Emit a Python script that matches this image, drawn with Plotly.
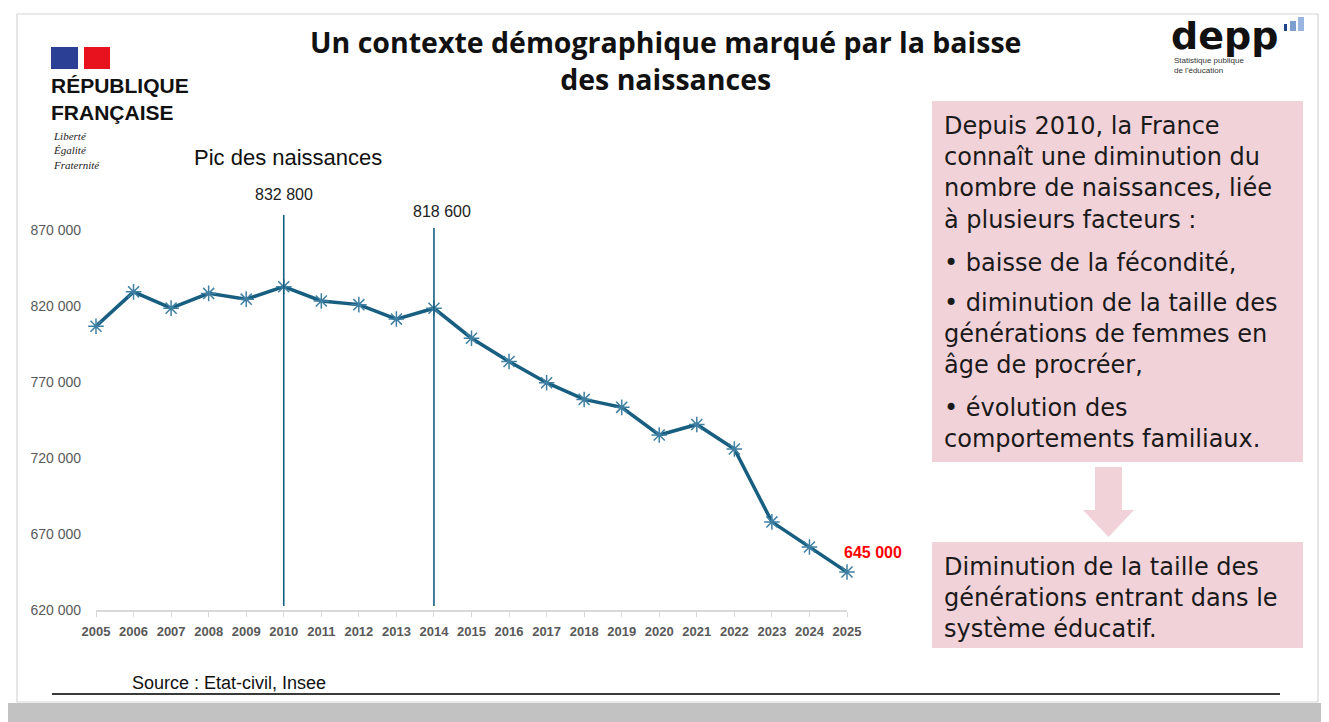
import plotly.graph_objects as go

# ---------------- data ----------------
years = [2005, 2006, 2007, 2008, 2009, 2010, 2011, 2012, 2013, 2014, 2015,
         2016, 2017, 2018, 2019, 2020, 2021, 2022, 2023, 2024, 2025]
births = [806800, 829400, 818700, 828400, 824600, 832800, 823400, 821000,
          811500, 818600, 798900, 783600, 769600, 758600, 753400, 735200,
          742100, 726000, 678000, 661500, 645000]
year_labels = [str(y) for y in years]
y_tick_vals = [620000, 670000, 720000, 770000, 820000, 870000]
y_tick_labels = ["620 000", "670 000", "720 000", "770 000", "820 000", "870 000"]
peak_years = [2010, 2014]
peak_labels = ["832 800", "818 600"]
last_label = "645 000"

box1_paragraphs = [
    ["Depuis 2010, la France", "connaît une diminution du",
     "nombre de naissances, liée", "à plusieurs facteurs :"],
    ["• baisse de la fécondité,"],
    ["• diminution de la taille des", "générations de femmes en", "âge de procréer,"],
    ["• évolution des", "comportements familiaux."],
]
box1_para_y = [173, 263, 334, 423]
box2_paragraphs = [["Diminution de la taille des", "générations entrant dans le",
                    "système éducatif."]]
box2_para_y = [598]

# ---------------- layout geometry (reference pixel coords, page offset 8px) ----------------
OFF = 8
W, H = 1321, 714
ML, MR, MT, MB = 88, 482, 207, 112


def px(x):
    return (x - OFF - ML) / (W - ML - MR)


def py(y):
    return 1 - (y - OFF - MT) / (H - MT - MB)


LINE = "#175e80"
MARK = "#3f7fa2"
PINK = "#f2d2d9"
GRAY = "#595959"
BOXFONT = "DejaVu Sans"

fig = go.Figure()
fig.add_trace(go.Scatter(
    x=years, y=births, mode="lines+markers",
    line=dict(color=LINE, width=3.5),
    marker=dict(symbol="asterisk-open", size=13, color=MARK,
                line=dict(color=MARK, width=1.5)),
    cliponaxis=False, showlegend=False, hoverinfo="x+y"))

shapes = []
annotations = []

# peak vertical lines & labels
peak_tops = [215, 228]
label_ys = [195, 212]
label_dx = [0, 8]
for yr, lab, top, ly, dx in zip(peak_years, peak_labels, peak_tops, label_ys, label_dx):
    shapes.append(dict(type="line", xref="x", yref="paper", x0=yr, x1=yr,
                       y0=py(606), y1=py(top), line=dict(color=LINE, width=1.6)))
    annotations.append(dict(xref="x", yref="paper", x=yr, y=py(ly), text=lab,
                            showarrow=False, xshift=dx,
                            font=dict(family="Liberation Sans, Arial", size=16, color="#222222"),
                            xanchor="center", yanchor="middle"))

# last value label
annotations.append(dict(xref="x", yref="y", x=years[-1], y=births[-1], text="<b>%s</b>" % last_label,
                        showarrow=False, xanchor="left", yanchor="middle", xshift=-5, yshift=20,
                        font=dict(family="Liberation Sans, Arial", size=16, color="#ff0000")))

# Pic des naissances
annotations.append(dict(xref="paper", yref="paper", x=px(192), y=py(157), text="Pic des naissances",
                        showarrow=False, xanchor="left", yanchor="middle",
                        font=dict(family="Liberation Sans, Arial", size=22, color="#111111")))

# title
annotations.append(dict(xref="paper", yref="paper", x=px(665), y=py(60),
                        text="<b>Un contexte démographique marqué par la baisse<br>des naissances</b>",
                        showarrow=False, xanchor="center", yanchor="middle", align="center",
                        font=dict(family="Open Sans, Liberation Sans", size=28.5, color="#111111")))

# République française logo
shapes.append(dict(type="rect", xref="paper", yref="paper", x0=px(51), x1=px(78), y0=py(69), y1=py(47),
                   fillcolor="#2b3f95", line=dict(width=0)))
shapes.append(dict(type="rect", xref="paper", yref="paper", x0=px(84), x1=px(110), y0=py(69), y1=py(47),
                   fillcolor="#e8121e", line=dict(width=0)))
annotations.append(dict(xref="paper", yref="paper", x=px(49), y=py(99), text="<b>RÉPUBLIQUE<br>FRANÇAISE</b>",
                        showarrow=False, xanchor="left", yanchor="middle", align="left",
                        font=dict(family="Liberation Sans, Arial", size=21, color="#111111")))
annotations.append(dict(xref="paper", yref="paper", x=px(51), y=py(150),
                        text="<i>Liberté<br>Égalité<br>Fraternité</i>",
                        showarrow=False, xanchor="left", yanchor="middle", align="left",
                        font=dict(family="Liberation Serif, DejaVu Serif", size=11, color="#222222")))

# depp logo
annotations.append(dict(xref="paper", yref="paper", x=px(1169), y=py(36), text="<b>depp</b>",
                        showarrow=False, xanchor="left", yanchor="middle",
                        font=dict(family="DejaVu Sans", size=38, color="#111111")))
for x0, x1, y0, c in [(1284, 1287, 24, "#1e3f8a"), (1290, 1296, 21, "#7d9fd0"), (1298, 1304, 17, "#9ab6e0")]:
    shapes.append(dict(type="rect", xref="paper", yref="paper", x0=px(x0), x1=px(x1), y0=py(31), y1=py(y0),
                       fillcolor=c, line=dict(width=0)))
annotations.append(dict(xref="paper", yref="paper", x=px(1172), y=py(65),
                        text="Statistique publique<br>de l'éducation",
                        showarrow=False, xanchor="left", yanchor="middle", align="left",
                        font=dict(family="Liberation Sans, Arial", size=8, color="#333333")))

# pink boxes & arrow
shapes.append(dict(type="rect", xref="paper", yref="paper", x0=px(932), x1=px(1303), y0=py(462), y1=py(101),
                   fillcolor=PINK, line=dict(width=0), layer="below"))
shapes.append(dict(type="rect", xref="paper", yref="paper", x0=px(932), x1=px(1303), y0=py(648), y1=py(542),
                   fillcolor=PINK, line=dict(width=0), layer="below"))
arrow_path = "M {a},{b} L {c},{b} L {c},{d} L {e},{d} L {f},{g} L {h},{d} L {i},{d} Z".format(
    a=px(1095), b=py(467), c=px(1122), d=py(510), e=px(1134), f=px(1108.5), g=py(537), h=px(1083), i=px(1095))
shapes.append(dict(type="path", xref="paper", yref="paper", path=arrow_path,
                   fillcolor=PINK, line=dict(width=0)))
for paras, ys in [(box1_paragraphs, box1_para_y), (box2_paragraphs, box2_para_y)]:
    for lines, y in zip(paras, ys):
        annotations.append(dict(xref="paper", yref="paper", x=px(942), y=py(y), text="<br>".join(lines),
                                showarrow=False, xanchor="left", yanchor="middle", align="left",
                                font=dict(family=BOXFONT, size=24, color="#1a1a1a")))

# source + rule
annotations.append(dict(xref="paper", yref="paper", x=px(130), y=py(683), text="Source : Etat-civil, Insee",
                        showarrow=False, xanchor="left", yanchor="middle",
                        font=dict(family="Liberation Sans Narrow, Liberation Sans", size=18, color="#111111")))
shapes.append(dict(type="line", xref="paper", yref="paper", x0=px(52), x1=px(1280), y0=py(694), y1=py(694),
                   line=dict(color="#3a3a3a", width=2)))

# slide frame & shadow
shapes.append(dict(type="rect", xref="paper", yref="paper", x0=px(0), x1=px(1329), y0=py(722), y1=py(703),
                   fillcolor="#c2c2c2", line=dict(width=0), layer="below"))
shapes.append(dict(type="rect", xref="paper", yref="paper", x0=px(1322), x1=px(1329), y0=py(722), y1=py(0),
                   fillcolor="#e6e6e6", line=dict(width=0), layer="below"))
shapes.append(dict(type="rect", xref="paper", yref="paper", x0=px(17), x1=px(1318), y0=py(702), y1=py(14),
                   fillcolor="rgba(0,0,0,0)", line=dict(color="#d6d6d6", width=1.2), layer="below"))

fig.update_layout(
    width=W, height=H,
    margin=dict(l=ML, r=MR, t=MT, b=MB, autoexpand=False),
    paper_bgcolor="white", plot_bgcolor="white",
    showlegend=False,
    shapes=shapes, annotations=annotations,
    xaxis=dict(range=[years[0], years[-1]], tickvals=years, ticktext=year_labels,
               showgrid=False, zeroline=False, showline=True, linecolor="#d9d9d9", linewidth=1.5,
               ticks="outside", ticklen=5, tickcolor="#d9d9d9", tickwidth=1.2, tickangle=0,
               tickfont=dict(family="Liberation Sans Narrow, Arial Narrow, Liberation Sans",
                             size=13, color=GRAY, weight="bold"),
               ticklabelstandoff=4, fixedrange=True),
    yaxis=dict(range=[620000, 880000], tickvals=y_tick_vals, ticktext=y_tick_labels,
               showgrid=False, zeroline=False, showline=False, ticks="",
               tickfont=dict(family="Liberation Sans, Arial", size=14, color=GRAY),
               ticklabelstandoff=14, fixedrange=True),
)

fig.write_html("out.html")
